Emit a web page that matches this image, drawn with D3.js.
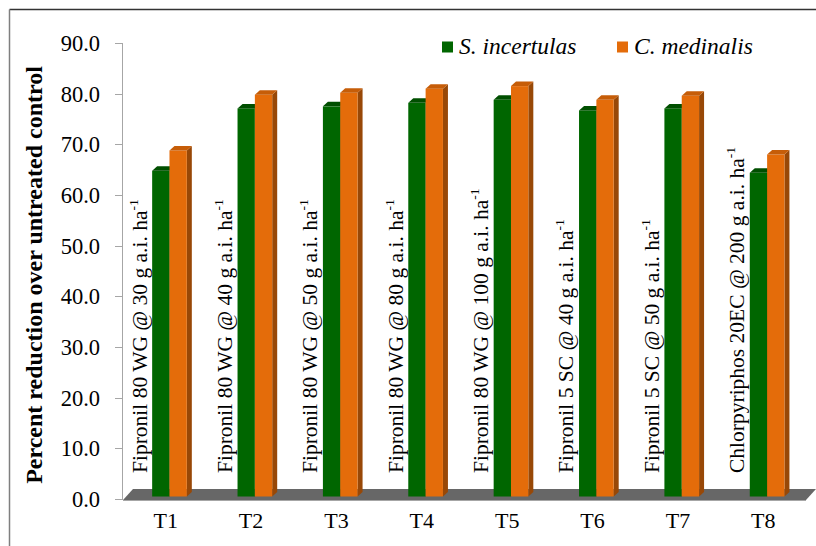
<!DOCTYPE html>
<html>
<head>
<meta charset="utf-8">
<script src="https://cdn.jsdelivr.net/npm/d3@7"></script>
<style>
  html, body { margin: 0; padding: 0; background: #fff; }
  svg { display: block; }
  svg text { font-family: 'Liberation Serif', 'Times New Roman', serif; }
</style>
</head>
<body>
<svg id="chart" width="816" height="546"></svg>
<script>
// ── data ──────────────────────────────────────
const categories = ['T1', 'T2', 'T3', 'T4', 'T5', 'T6', 'T7', 'T8'];
const treatments = [
  'Fipronil 80 WG @ 30 g a.i. ha',
  'Fipronil 80 WG @ 40 g a.i. ha',
  'Fipronil 80 WG @ 50 g a.i. ha',
  'Fipronil 80 WG @ 80 g a.i. ha',
  'Fipronil 80 WG @ 100 g a.i. ha',
  'Fipronil 5 SC @ 40 g a.i. ha',
  'Fipronil 5 SC @ 50 g a.i. ha',
  'Chlorpyriphos 20EC @ 200 g a.i. ha'
];
const seriesNames = ['S. incertulas', 'C. medinalis'];
const sIncertulas = [64.3, 76.6, 77.0, 77.7, 78.3, 76.2, 76.6, 63.9];
const cMedinalis  = [68.3, 79.3, 79.7, 80.5, 81.0, 78.3, 79.1, 67.5];
const yTicks = [0, 10, 20, 30, 40, 50, 60, 70, 80, 90];

// ── layout ────────────────────────────────────
const svg = d3.select('#chart');
const X0 = 123, X1 = 806, Y0 = 499, Y1 = 43;
const FLOOR = { dx: 10, dy: 11 };       // 床の奥行き
const BAR_OFF = { dx: 3.8, dy: 2.5 };   // 棒の前面オフセット
const BAR_D = { dx: 5, dy: 4.5 };       // 棒の奥行き

const colors = [
  { front: '#006600', top: '#004f00', side: '#004000' },
  { front: '#e46c0a', top: '#c65d08', side: '#984807' }
];

const x = d3.scaleBand().domain(categories).range([X0, X1]);
const y = d3.scaleLinear().domain([0, 90]).range([Y0, Y1]);

// frame
svg.append('line').attr('x1', 9.5).attr('x2', 830).attr('y1', 9.5).attr('y2', 9.5)
  .attr('stroke', '#333').attr('stroke-width', 1.5);
svg.append('line').attr('x1', 9.5).attr('x2', 9.5).attr('y1', 9.5).attr('y2', 560)
  .attr('stroke', '#7f7f7f').attr('stroke-width', 1.5);

// floor
svg.append('polygon')
  .attr('points', [[X0, Y0 + 1], [X1, Y0 + 1], [X1 + FLOOR.dx, Y0 + 1 - FLOOR.dy], [X0 + FLOOR.dx, Y0 + 1 - FLOOR.dy]].join(' '))
  .attr('fill', '#676767');
svg.append('line').attr('x1', X0).attr('x2', X1).attr('y1', Y0 + 1.5).attr('y2', Y0 + 1.5)
  .attr('stroke', '#a6a6a6').attr('stroke-width', 1);

// y axis
svg.append('line').attr('x1', X0 - 0.5).attr('x2', X0 - 0.5).attr('y1', y(90)).attr('y2', y(0))
  .attr('stroke', '#a6a6a6');
const yAxis = svg.append('g');
yTicks.forEach(t => {
  yAxis.append('line').attr('x1', X0 - 8).attr('x2', X0).attr('y1', Math.round(y(t)) + 0.5).attr('y2', Math.round(y(t)) + 0.5)
    .attr('stroke', '#a6a6a6');
  yAxis.append('text').attr('x', X0 - 23).attr('y', y(t)).attr('dy', '0.35em')
    .attr('text-anchor', 'end').attr('font-size', 22.5).attr('fill', '#000')
    .text(t.toFixed(1));
});

// axis title
svg.append('text')
  .attr('transform', 'translate(42,275) rotate(-90)')
  .attr('text-anchor', 'middle').attr('font-weight', 'bold').attr('font-size', 24)
  .text('Percent reduction over untreated control');

// bars
const bw = x.bandwidth() * 0.203;
const series = [sIncertulas, cMedinalis];
categories.forEach((c, i) => {
  const cx = x(c) + x.bandwidth() / 2 + BAR_OFF.dx;
  const yb = y(0) - BAR_OFF.dy;
  series.forEach((vals, s) => {
    const bx = cx - bw + s * bw;
    const yt = y(vals[i]) - BAR_OFF.dy;
    const col = colors[s];
    const g = svg.append('g');
    g.append('polygon')
      .attr('points', [[bx + bw, yt], [bx + bw + BAR_D.dx, yt - BAR_D.dy], [bx + bw + BAR_D.dx, yb - BAR_D.dy], [bx + bw, yb]].join(' '))
      .attr('fill', col.side);
    g.append('rect').attr('x', bx).attr('y', yt).attr('width', bw).attr('height', yb - yt)
      .attr('fill', col.front);
    g.append('polygon')
      .attr('points', [[bx, yt], [bx + bw, yt], [bx + bw + BAR_D.dx, yt - BAR_D.dy], [bx + BAR_D.dx, yt - BAR_D.dy]].join(' '))
      .attr('fill', col.top);
  });
});

// rotated treatment labels
treatments.forEach((t, i) => {
  const tx = x(categories[i]) + 23.5, ty = 473;
  const txt = svg.append('text')
    .attr('transform', `translate(${tx},${ty}) rotate(-90)`)
    .attr('font-size', 21.5).attr('fill', '#000');
  txt.append('tspan').text(t);
  txt.append('tspan').attr('font-size', 13.5).attr('dy', -9).text('-1');
});

// x labels
categories.forEach(c => {
  svg.append('text').attr('x', x(c) + x.bandwidth() / 2).attr('y', 528)
    .attr('text-anchor', 'middle').attr('font-size', 22).text(c);
});

// legend
const legend = [{ x: 442, name: seriesNames[0] }, { x: 617, name: seriesNames[1] }];
legend.forEach((l, s) => {
  svg.append('rect').attr('x', l.x).attr('y', 41.5).attr('width', 11).attr('height', 11)
    .attr('fill', colors[s].front);
  svg.append('text').attr('x', l.x + 17).attr('y', 54).attr('font-size', 23.5)
    .attr('font-style', 'italic').text(l.name);
});
</script>
</body>
</html>
